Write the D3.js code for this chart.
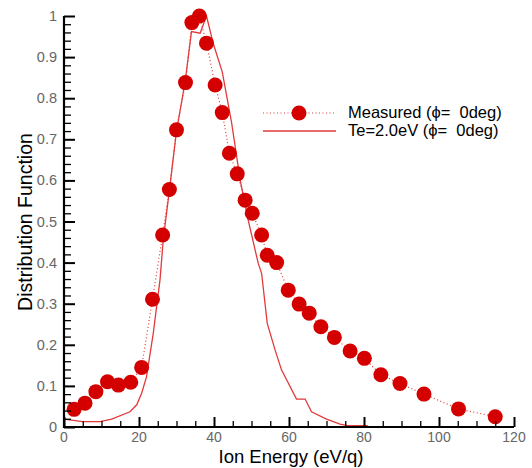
<!DOCTYPE html>
<html>
<head>
<meta charset="utf-8">
<script src="https://cdn.jsdelivr.net/npm/d3@7"></script>
<style>
html,body{margin:0;padding:0;background:#fff;}
svg{display:block;}
</style>
</head>
<body>
<div id="chart"></div>
<script>
// ---- data ----
const measuredE = [2.7, 5.6, 8.5, 11.6, 14.5, 17.8, 20.7, 23.6, 26.3, 28.1, 30.0, 32.4, 34.1, 36.1, 38.0, 40.3, 42.2, 44.1, 46.2, 48.3, 50.2, 52.7, 54.2, 56.7, 59.8, 62.7, 65.4, 68.5, 72.1, 76.3, 80.1, 84.5, 89.6, 96.0, 105.2, 115.0];
const measuredF = [0.043, 0.058, 0.086, 0.110, 0.102, 0.109, 0.145, 0.311, 0.467, 0.578, 0.723, 0.838, 0.984, 1.0, 0.934, 0.832, 0.765, 0.666, 0.616, 0.552, 0.520, 0.467, 0.418, 0.400, 0.333, 0.299, 0.277, 0.244, 0.218, 0.185, 0.167, 0.127, 0.106, 0.080, 0.044, 0.025];
const theoryE = [0, 5, 9.6, 12.7, 17.6, 19.4, 20.7, 22.0, 23.8, 25.6, 26.5, 28.1, 30.0, 32.3, 34.0, 36.3, 38.0, 39.8, 42.2, 44.7, 47.0, 49.1, 51.8, 52.7, 54.2, 56.3, 58.0, 62.0, 64.3, 66.0, 70.0, 73.6, 75.4, 81.0];
const theoryF = [0.019, 0.013, 0.013, 0.019, 0.037, 0.054, 0.082, 0.122, 0.228, 0.358, 0.459, 0.575, 0.72, 0.84, 0.962, 0.958, 1.0, 0.933, 0.864, 0.74, 0.60, 0.504, 0.398, 0.374, 0.252, 0.187, 0.139, 0.068, 0.068, 0.037, 0.019, 0.007, 0.004, 0.003];
const xTicks = [0, 20, 40, 60, 80, 100, 120];
const yTicks = [0, 0.1, 0.2, 0.3, 0.4, 0.5, 0.6, 0.7, 0.8, 0.9, 1];
const yTickLabels = ["0", "0.1", "0.2", "0.3", "0.4", "0.5", "0.6", "0.7", "0.8", "0.9", "1"];
const legendLabels = ["Measured (\u03d5=  0deg)", "Te=2.0eV (\u03d5=  0deg)"];
const xTitle = "Ion Energy (eV/q)";
const yTitle = "Distribution Function";

// ---- layout ----
const W = 532, H = 468;
const svg = d3.select("#chart").append("svg").attr("width", W).attr("height", H);
const x = d3.scaleLinear().domain([0, 120]).range([64, 514]);
const y = d3.scaleLinear().domain([0, 1]).range([427, 16]);
const red = "#d40000";
const lineRed = "#e23a3a";
const font = "Liberation Sans, Arial, Helvetica, sans-serif";

// theory line
const line = d3.line().x(d => x(d[0])).y(d => y(d[1]));
svg.append("path")
  .datum(theoryE.map((e, i) => [e, theoryF[i]]))
  .attr("d", line).attr("fill", "none").attr("stroke", lineRed).attr("stroke-width", 1.3);

// measured dotted line
svg.append("path")
  .datum(measuredE.map((e, i) => [e, measuredF[i]]))
  .attr("d", line).attr("fill", "none").attr("stroke", lineRed).attr("stroke-width", 1.2)
  .attr("stroke-dasharray", "1,2.5");

// markers
svg.append("g").selectAll("circle")
  .data(measuredE.map((e, i) => [e, measuredF[i]]))
  .join("circle")
  .attr("cx", d => x(d[0])).attr("cy", d => y(d[1])).attr("r", 7.5).attr("fill", red);

// axes
const xMinor = d3.range(0, 121, 5).filter(v => v % 20 !== 0);
const yMinor = d3.range(0, 1.001, 0.02).filter(v => Math.abs(v * 10 - Math.round(v * 10)) > 1e-6);

const xAxisMajor = d3.axisTop(x).tickValues(xTicks).tickSize(10).tickFormat("");
const xAxisMinor = d3.axisTop(x).tickValues(xMinor).tickSize(6).tickFormat("");
const yAxisMajor = d3.axisRight(y).tickValues(yTicks).tickSize(11).tickFormat("");
const yAxisMinor = d3.axisRight(y).tickValues(yMinor).tickSize(7).tickFormat("");

function styleAxis(g, w) {
  g.select(".domain").remove();
  g.selectAll(".tick line").attr("stroke", "#000").attr("stroke-width", w);
}
svg.append("g").attr("transform", `translate(0,${y(0)})`).call(xAxisMajor).call(g => styleAxis(g, 2));
svg.append("g").attr("transform", `translate(0,${y(0)})`).call(xAxisMinor).call(g => styleAxis(g, 1.3));
svg.append("g").attr("transform", `translate(${x(0)},0)`).call(yAxisMajor).call(g => styleAxis(g, 2));
svg.append("g").attr("transform", `translate(${x(0)},0)`).call(yAxisMinor).call(g => styleAxis(g, 1.3));

// axis lines
svg.append("line").attr("x1", x(0)).attr("x2", x(120)).attr("y1", y(0)).attr("y2", y(0))
  .attr("stroke", "#000").attr("stroke-width", 2.2);
svg.append("line").attr("x1", x(0)).attr("x2", x(0)).attr("y1", y(0) + 1).attr("y2", y(1))
  .attr("stroke", "#000").attr("stroke-width", 2.2);

// tick labels
svg.append("g").selectAll("text").data(xTicks).join("text")
  .attr("x", d => x(d)).attr("y", y(0) + 15)
  .attr("text-anchor", "middle")
  .attr("font-family", font).attr("font-size", 14).attr("fill", "#666")
  .text(d => d);
svg.append("g").selectAll("text").data(yTicks).join("text")
  .attr("x", x(0) - 7).attr("y", d => y(d) + 5)
  .attr("text-anchor", "end")
  .attr("font-family", font).attr("font-size", 14.5).attr("fill", "#666")
  .text((d, i) => yTickLabels[i]);

// titles
svg.append("text").attr("x", 291).attr("y", 463).attr("text-anchor", "middle")
  .attr("font-family", font).attr("font-size", 18.5).attr("fill", "#000").text(xTitle);
svg.append("text").attr("transform", "translate(32,222) rotate(-90)").attr("text-anchor", "middle")
  .attr("font-family", font).attr("font-size", 19.5).attr("fill", "#000").text(yTitle);

// legend
const lg = svg.append("g");
lg.append("line").attr("x1", 263).attr("x2", 335).attr("y1", 113).attr("y2", 113)
  .attr("stroke", lineRed).attr("stroke-width", 1.2).attr("stroke-dasharray", "1,2.5");
lg.append("circle").attr("cx", 299).attr("cy", 113).attr("r", 7.5).attr("fill", red);
lg.append("line").attr("x1", 263).attr("x2", 336).attr("y1", 131).attr("y2", 131)
  .attr("stroke", lineRed).attr("stroke-width", 1.3);
lg.selectAll("text.leg").data(legendLabels).join("text").attr("class", "leg")
  .attr("x", 348).attr("y", (d, i) => 118 + i * 18)
  .attr("font-family", font).attr("font-size", 16.5).attr("fill", "#000")
  .style("white-space", "pre").attr("xml:space", "preserve")
  .text(d => d);
</script>
</body>
</html>
